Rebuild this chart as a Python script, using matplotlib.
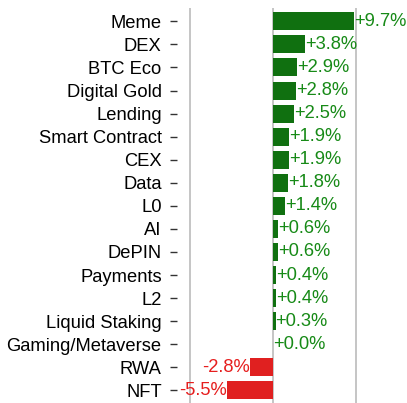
import matplotlib.pyplot as plt
import numpy as np

plt.rcParams['font.family'] = ['Liberation Sans', 'DejaVu Sans']

categories = ["Meme", "DEX", "BTC Eco", "Digital Gold", "Lending", "Smart Contract",
              "CEX", "Data", "L0", "AI", "DePIN", "Payments", "L2", "Liquid Staking",
              "Gaming/Metaverse", "RWA", "NFT"]
changes = [9.7, 3.8, 2.9, 2.8, 2.5, 1.9, 1.9, 1.8, 1.4, 0.6, 0.6, 0.4, 0.4, 0.3, 0.0, -2.8, -5.5]

fig = plt.figure(figsize=(4.07, 4.03), dpi=100)
ax = fig.add_axes([177 / 407, 0.0, 192 / 407, 395 / 403])

y = np.arange(len(categories))
bar_colors = ['#107010' if v >= 0 else '#e02020' for v in changes]
ax.barh(y, changes, height=0.78, color=bar_colors, zorder=2)

for yi, v in zip(y, changes):
    if v >= 0:
        ax.text(v, yi, f"+{v:.1f}%", color='#178a17', fontsize=13.2,
                ha='left', va='center', zorder=3)
    else:
        ax.text(v, yi, f"{v:.1f}%", color='#e61e1e', fontsize=13.2,
                ha='right', va='center', zorder=3)

ax.set_yticks(y)
ax.set_yticklabels(categories, fontsize=13.2)
ax.set_ylim(len(categories) - 0.5 + 0.05, -0.5 - 0.08)
ax.set_xlim(-11.5, 11.5)
ax.set_xticks([-10, 0, 10])
ax.tick_params(axis='x', bottom=False, labelbottom=False)
ax.tick_params(axis='y', length=5, width=1, pad=6, color='#333333')
ax.xaxis.grid(True, color='#bbbbbb', linewidth=1.2, zorder=0)
for s in ax.spines.values():
    s.set_visible(False)

fig.savefig("out.png", dpi=100)
